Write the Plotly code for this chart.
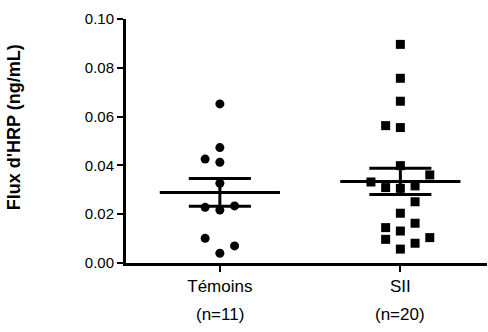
import numpy as np
import plotly.graph_objects as go

categories = ["Témoins", "SII"]
temoins = [0.0652, 0.0473, 0.0426, 0.0413, 0.0327, 0.0228, 0.0217, 0.0234, 0.0101, 0.0070, 0.0040]
temoins_col = [0, 0, -1, 0, 0, -1, 0, 1, -1, 1, 0]
sii = [0.0896, 0.0757, 0.0663, 0.0563, 0.0555, 0.0399, 0.0361, 0.0332, 0.0309, 0.0306,
       0.0316, 0.0251, 0.0204, 0.0145, 0.0131, 0.0163, 0.0097, 0.0104, 0.0081, 0.0057]
sii_col = [0, 0, 0, -1, 0, 0, 2, -2, -1, 0, 1, 1, 0, -1, 0, 1, -1, 2, 1, 0]
ytick_vals = [0.0, 0.02, 0.04, 0.06, 0.08, 0.10]
ytick_text = ["0.00", "0.02", "0.04", "0.06", "0.08", "0.10"]

FONT = "Liberation Sans, Arial, sans-serif"
spacing = 0.0815
mean_hw = 0.333
sem_hw = 0.172
LW = 3

groups = [(temoins, temoins_col, "circle"), (sii, sii_col, "square")]

fig = go.Figure()
for i, (vals, cols, sym) in enumerate(groups):
    v = np.array(vals)
    m = v.mean()
    sem = v.std(ddof=1) / np.sqrt(len(v))
    line = dict(color="black", width=LW)
    fig.add_trace(go.Scatter(x=[i - mean_hw, i + mean_hw], y=[m, m], mode="lines", line=line, showlegend=False))
    fig.add_trace(go.Scatter(x=[i - sem_hw, i + sem_hw], y=[m + sem, m + sem], mode="lines", line=line, showlegend=False))
    fig.add_trace(go.Scatter(x=[i - sem_hw, i + sem_hw], y=[m - sem, m - sem], mode="lines", line=line, showlegend=False))
    fig.add_trace(go.Scatter(x=[i, i], y=[m - sem, m + sem], mode="lines", line=line, showlegend=False))
    xs = [i + c * spacing for c in cols]
    fig.add_trace(go.Scatter(x=xs, y=vals, mode="markers",
                             marker=dict(symbol=sym, size=9, color="black", line=dict(width=0)),
                             showlegend=False, cliponaxis=False))

for i, vals in enumerate([temoins, sii]):
    fig.add_annotation(x=i, xref="x", y=-0.213, yref="paper", text=f"(n={len(vals)})",
                       showarrow=False, font=dict(family=FONT, size=17, color="black"),
                       xanchor="center", yanchor="middle")

fig.add_annotation(x=-0.31, xref="paper", y=0.557, yref="paper", text="<b>Flux d'HRP (ng/mL)</b>",
                   textangle=-90, showarrow=False, font=dict(family=FONT, size=18, color="black"),
                   xanchor="center", yanchor="middle")

fig.update_xaxes(range=[-0.52, 1.48], tickmode="array", tickvals=[0, 1], ticktext=categories,
                 showline=True, linewidth=LW, linecolor="black", ticks="outside", ticklen=6,
                 tickwidth=2, tickcolor="black", showgrid=False, zeroline=False,
                 tickfont=dict(family=FONT, size=17, color="black"))
fig.update_yaxes(range=[0, 0.10], tickmode="array", tickvals=ytick_vals, ticktext=ytick_text,
                 showline=True, linewidth=LW, linecolor="black", ticks="outside", ticklen=6,
                 tickwidth=2, tickcolor="black", showgrid=False, zeroline=False,
                 tickfont=dict(family=FONT, size=15, color="black"))

fig.update_layout(width=488, height=332, margin=dict(l=126, r=1, t=19, b=69),
                  plot_bgcolor="white", paper_bgcolor="white")

fig.write_html("out.html")
